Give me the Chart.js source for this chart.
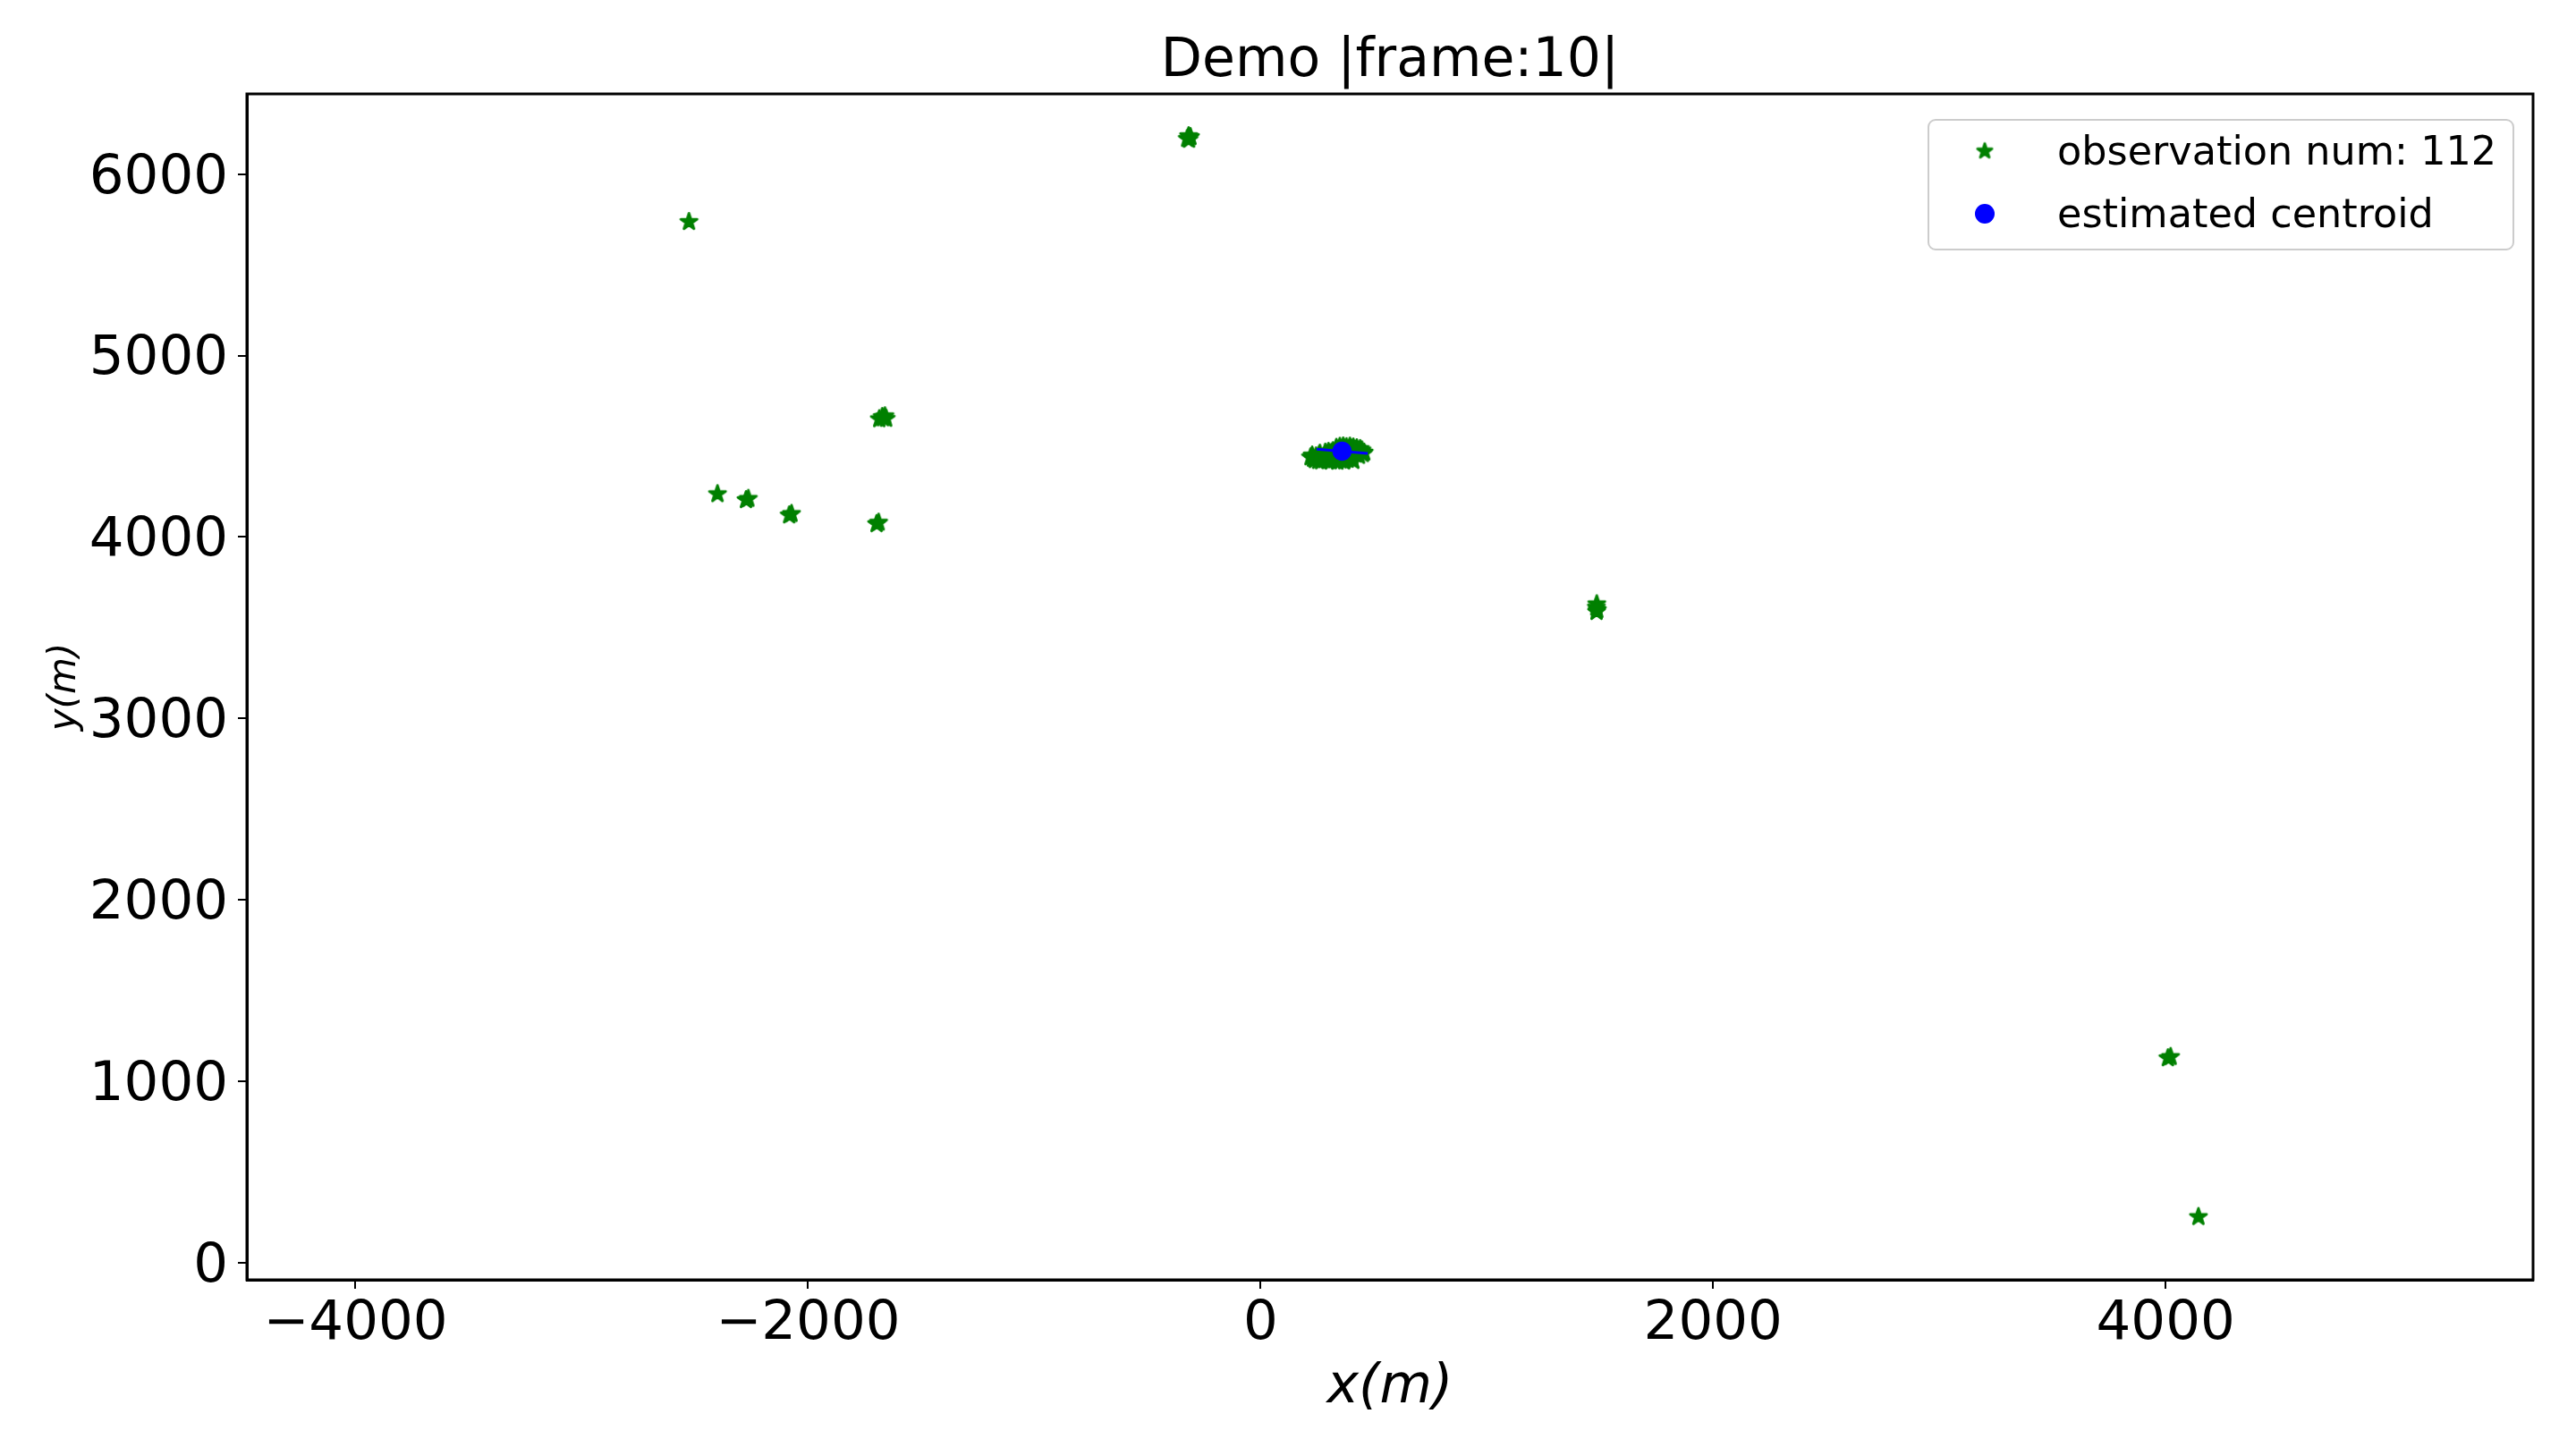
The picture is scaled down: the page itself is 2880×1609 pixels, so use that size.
<!DOCTYPE html>
<html lang="en">
<head>
  <meta charset="UTF-8">
  <title>Demo |frame:10|</title>
  <script src="https://cdn.jsdelivr.net/npm/chart.js"></script>
  <style>
    body { margin: 0; background: #fff; }
    #chart { display: block; }
  </style>
</head>
<body>
  <canvas id="chart" width="2880" height="1609"></canvas>
  <script>
    const obsX = [
      -2526,
      -324, -310, -318, -316,
      -2400,
      -2274, -2264,
      -2083, -2073,
      -1685, -1672, -1660, -1655, -1668,
      -1697, -1688,
      // main group near the centroid
      335, 350, 365, 380, 395, 410, 425, 440, 448, 338, 355, 372, 388, 402, 418, 432,
      458, 452, 445,
      221, 232, 245, 258, 270, 283, 296, 310, 325, 340, 355, 370, 385, 400, 410,
      240, 255, 268, 280, 292, 305, 318, 330, 345, 360, 375, 390, 405, 420, 435,
      300, 320, 340, 360, 380, 400, 415, 228, 262, 286,
      1486, 1484, 1488, 1485,
      4010, 4022,
      4145
    ];
    const obsY = [
      5737,
      6195, 6205, 6210, 6190,
      4237,
      4204, 4211,
      4120, 4128,
      4650, 4662, 4666, 4652, 4655,
      4072, 4080,
      4492, 4498, 4500, 4496, 4499, 4494, 4490, 4486, 4478, 4482, 4486, 4488, 4484, 4487, 4481, 4476,
      4466, 4458, 4470,
      4440, 4432, 4445, 4450, 4438, 4428, 4420, 4418, 4424, 4416, 4422, 4418, 4426, 4430, 4420,
      4425, 4420, 4418, 4444, 4456, 4462, 4452, 4440, 4445, 4435, 4440, 4450, 4445, 4455, 4448,
      4470, 4474, 4466, 4458, 4462, 4470, 4464, 4450, 4460, 4466,
      3630, 3612, 3598, 3588,
      1128, 1135,
      253
    ];
    const centroidX = [360];
    const centroidY = [4473];
    // flat spread line through the centroid
    const spreadX = [248, 474];
    const spreadY = [4484, 4460];

    const xTicks = [-4000, -2000, 0, 2000, 4000];
    const yTicks = [0, 1000, 2000, 3000, 4000, 5000, 6000];
    const xRange = [-4480, 5624];
    const yRange = [-94, 6442];

    const titleText = 'Demo |frame:10|';
    const obsLabel = 'observation num: 112';
    const centroidLabel = 'estimated centroid';

    const GREEN = '#008000';
    const BLUE = '#0000ff';

    Chart.defaults.font.family = "'DejaVu Sans', sans-serif";

    function makeStar(r, color) {
      const s = Math.ceil(r * 2 + 6);
      const c = document.createElement('canvas');
      c.width = s;
      c.height = s;
      const g = c.getContext('2d');
      g.translate(s / 2, s / 2);
      g.beginPath();
      for (let i = 0; i < 10; i++) {
        const rad = i % 2 ? r * 0.381966 : r;
        const a = -Math.PI / 2 + i * Math.PI / 5;
        g.lineTo(Math.cos(a) * rad, Math.sin(a) * rad);
      }
      g.closePath();
      g.fillStyle = color;
      g.fill();
      g.strokeStyle = color;
      g.lineWidth = 2.8;
      g.lineJoin = 'round';
      g.stroke();
      return c;
    }

    const starMark = makeStar(9.6, GREEN);
    const legendStar = makeStar(8.5, GREEN);

    const fmt = v => (v < 0 ? '\u2212' + Math.abs(v) : String(v));

    const toPoints = (xs, ys) => xs.map((x, i) => ({ x: x, y: ys[i] }));

    // axes box on all four sides
    const frame = {
      id: 'frame',
      afterDatasetsDraw(chart) {
        const { ctx, chartArea: a } = chart;
        ctx.save();
        ctx.strokeStyle = '#000';
        ctx.lineWidth = 3;
        ctx.strokeRect(a.left, a.top, a.right - a.left, a.bottom - a.top);
        ctx.restore();
      }
    };

    // legend box in the upper right of the plot
    const boxLegend = {
      id: 'boxLegend',
      afterDraw(chart) {
        const { ctx, chartArea: a } = chart;
        const w = 654, h = 145;
        const left = a.right - 22 - w;
        const top = a.top + 29;
        ctx.save();
        ctx.beginPath();
        ctx.roundRect(left, top, w, h, 8);
        ctx.fillStyle = 'rgba(255,255,255,0.8)';
        ctx.fill();
        ctx.strokeStyle = '#cccccc';
        ctx.lineWidth = 2;
        ctx.stroke();

        ctx.font = "44.5px 'DejaVu Sans', sans-serif";
        ctx.fillStyle = '#000';
        ctx.textBaseline = 'middle';
        ctx.textAlign = 'left';

        const rows = [
          { label: obsLabel, y: top + 35, star: true },
          { label: centroidLabel, y: top + 105, star: false }
        ];
        rows.forEach(r => {
          const mx = left + 63;
          if (r.star) {
            ctx.drawImage(legendStar, mx - legendStar.width / 2, r.y - legendStar.height / 2);
          } else {
            ctx.beginPath();
            ctx.arc(mx, r.y, 11, 0, Math.PI * 2);
            ctx.fillStyle = BLUE;
            ctx.fill();
            ctx.fillStyle = '#000';
          }
          ctx.fillText(r.label, left + 144, r.y + 3);
        });
        ctx.restore();
      }
    };

    new Chart(document.getElementById('chart'), {
      type: 'scatter',
      data: {
        datasets: [
          {
            label: centroidLabel,
            data: toPoints(centroidX, centroidY),
            pointStyle: 'circle',
            pointRadius: 10,
            backgroundColor: BLUE,
            borderColor: BLUE,
            borderWidth: 1.5,
            order: 1
          },
          {
            label: 'spread',
            data: toPoints(spreadX, spreadY),
            showLine: true,
            borderColor: BLUE,
            borderWidth: 3,
            pointRadius: 0,
            order: 2
          },
          {
            label: obsLabel,
            data: toPoints(obsX, obsY),
            pointStyle: starMark,
            pointRadius: 10,
            backgroundColor: GREEN,
            borderColor: GREEN,
            order: 3
          }
        ]
      },
      options: {
        responsive: false,
        animation: false,
        layout: { padding: { left: 0, right: 48, top: 0, bottom: 0 } },
        plugins: {
          legend: { display: false },
          tooltip: { enabled: false },
          title: {
            display: true,
            fullSize: false,
            text: titleText,
            color: '#000',
            font: { size: 60, weight: 'normal' },
            padding: { top: 33, bottom: 0 }
          }
        },
        scales: {
          x: {
            type: 'linear',
            min: xRange[0],
            max: xRange[1],
            afterBuildTicks: s => { s.ticks = xTicks.map(v => ({ value: v })); },
            afterFit: s => { s.height = 178; },
            ticks: { font: { size: 61 }, color: '#000', padding: 4, maxRotation: 0, autoSkip: false, callback: fmt },
            grid: { drawOnChartArea: false, drawTicks: true, tickLength: 10, color: '#000', lineWidth: 2 },
            border: { display: true, color: '#000', width: 3 },
            title: { display: true, text: 'x(m)', color: '#000', font: { size: 60, style: 'italic' }, padding: { top: 0, bottom: 21 } }
          },
          y: {
            type: 'linear',
            min: yRange[0],
            max: yRange[1],
            afterBuildTicks: s => { s.ticks = yTicks.map(v => ({ value: v })); },
            afterFit: s => { s.width = 276; },
            ticks: { font: { size: 61 }, color: '#000', padding: 11, labelOffset: 5, autoSkip: false, callback: fmt },
            grid: { drawOnChartArea: false, drawTicks: true, tickLength: 10, color: '#000', lineWidth: 2 },
            border: { display: true, color: '#000', width: 3 },
            title: { display: true, text: 'y(m)', color: '#000', font: { size: 42, style: 'italic' }, padding: { top: 48, bottom: 0 } }
          }
        }
      },
      plugins: [frame, boxLegend]
    });
  </script>
</body>
</html>
